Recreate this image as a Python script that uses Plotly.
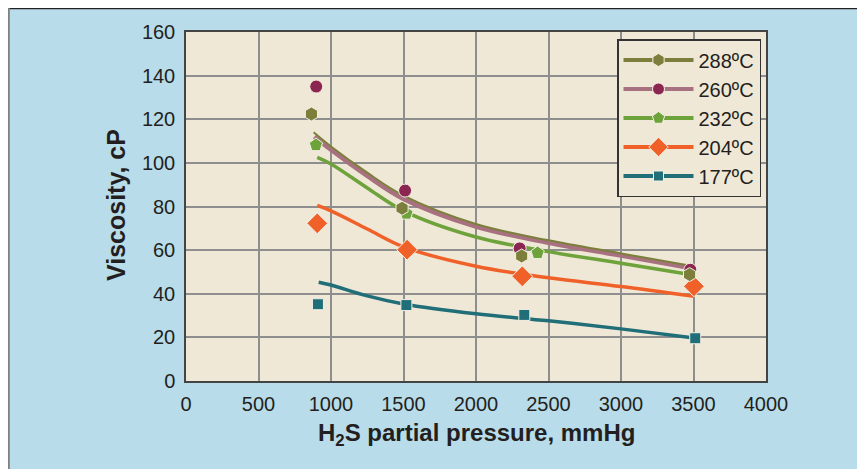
import plotly.graph_objects as go

# ---- data ----
series_names = ["288ºC", "260ºC", "232ºC", "204ºC", "177ºC"]

# measured points
pts_288_x = [865, 1490, 2315, 3473]
pts_288_y = [122.4, 79.2, 57.3, 48.8]
pts_260_x = [898, 1511, 2301, 3478]
pts_260_y = [135.0, 87.3, 60.8, 51.0]
pts_232_x = [896, 1520, 2425]
pts_232_y = [108.2, 76.8, 58.7]
pts_204_x = [905, 1525, 2319, 3503]
pts_204_y = [72.3, 60.2, 48.0, 43.4]
pts_177_x = [910, 1520, 2333, 3512]
pts_177_y = [35.2, 34.8, 30.3, 19.6]

# fitted curves
fit_288_x = [880, 1000, 1250, 1500, 2000, 2500, 3000, 3480]
fit_288_y = [114.0, 107.5, 95.5, 85.0, 72.0, 64.5, 58.5, 52.8]
fit_260_x = [885, 1000, 1250, 1500, 2000, 2500, 3000, 3480]
fit_260_y = [112.0, 106.0, 94.0, 83.5, 70.8, 63.4, 57.5, 51.8]
fit_232_x = [905, 1000, 1250, 1500, 2000, 2500, 3000, 3445]
fit_232_y = [102.5, 99.5, 88.5, 78.0, 66.0, 59.3, 54.0, 49.2]
fit_204_x = [905, 1000, 1250, 1500, 2000, 2500, 3000, 3505]
fit_204_y = [80.5, 78.0, 69.7, 61.5, 52.6, 47.3, 43.3, 38.8]
fit_177_x = [915, 1000, 1250, 1500, 2000, 2500, 3000, 3520]
fit_177_y = [45.3, 44.0, 39.0, 35.3, 30.8, 27.6, 23.9, 19.6]

x_ticks = [0, 500, 1000, 1500, 2000, 2500, 3000, 3500, 4000]
y_ticks = [0, 20, 40, 60, 80, 100, 120, 140, 160]

# ---- styles ----
OLIVE = "#7b7f3b"
MAUVE_LINE = "#a8717f"
MAUVE_MK = "#8b2651"
GREEN = "#6ea23b"
ORANGE = "#f0612a"
TEAL = "#1f6e78"
PLOT_BG = "#f0e8d6"
PAPER_BG = "#b8dcea"
FONT = "Liberation Sans, Arial, sans-serif"
TXT = "#231f20"

# figure is offset by the page's 8px body margin, so it is sized to fill the rest of the window
W, H = 857, 461
ML, MR, MT, MB = 178, 99, 24, 88
PW, PH = W - ML - MR, H - MT - MB

def px_x(p):  # figure pixel -> paper x
    return (p - ML) / PW

def px_y(p):  # figure pixel -> paper y
    return (H - MB - p) / PH

fig = go.Figure()

def line(x, y, color, width):
    fig.add_trace(go.Scatter(x=x, y=y, mode="lines", line=dict(color=color, width=width, shape="spline"),
                             showlegend=False, hoverinfo="skip"))

def marks(x, y, color, symbol, size):
    fig.add_trace(go.Scatter(x=x, y=y, mode="markers",
                             marker=dict(color=color, symbol=symbol, size=size,
                                         line=dict(color="#f4efe4", width=1)),
                             showlegend=False))

# curves
line(fit_177_x, fit_177_y, TEAL, 3.5)
line(fit_204_x, fit_204_y, ORANGE, 3.5)
line(fit_232_x, fit_232_y, GREEN, 3.5)
line(fit_260_x, fit_260_y, MAUVE_LINE, 4.5)
line(fit_288_x, fit_288_y, OLIVE, 2)

# markers
marks(pts_177_x, pts_177_y, TEAL, "square", 11)
marks(pts_204_x, pts_204_y, ORANGE, "diamond", 16)
marks(pts_232_x, pts_232_y, GREEN, "pentagon", 14)
marks(pts_260_x, pts_260_y, MAUVE_MK, "circle", 13)
marks(pts_288_x, pts_288_y, OLIVE, "hexagon", 14)

# legend entries
legend_styles = [
    (OLIVE, OLIVE, "hexagon", 13),
    (MAUVE_LINE, MAUVE_MK, "circle", 12),
    (GREEN, GREEN, "pentagon", 13),
    (ORANGE, ORANGE, "diamond", 15),
    (TEAL, TEAL, "square", 10),
]
for i, (name, (lc, mc, sym, sz)) in enumerate(zip(series_names, legend_styles)):
    fig.add_trace(go.Scatter(x=[None], y=[None], mode="lines+markers", name=name,
                             line=dict(color=lc, width=4),
                             marker=dict(color=mc, symbol=sym, size=sz, line=dict(color="#f4efe4", width=1)),
                             legendgroup=f"g{i}", showlegend=True))

fig.update_layout(
    width=W, height=H,
    margin=dict(l=ML, r=MR, t=MT, b=MB),
    paper_bgcolor=PAPER_BG,
    plot_bgcolor=PLOT_BG,
    font=dict(family=FONT, color=TXT),
    showlegend=True,
    legend=dict(x=px_x(753), y=px_y(31), xanchor="right", yanchor="top",
                bgcolor=PLOT_BG, bordercolor="#333333", borderwidth=1.5,
                font=dict(size=20, family=FONT, color=TXT),
                tracegroupgap=0, traceorder="grouped", itemwidth=70),
    xaxis=dict(range=[0, 4000], tickvals=x_ticks, ticktext=[str(v) for v in x_ticks],
               showgrid=True, gridcolor="#8e8e8e", gridwidth=1.5,
               showline=True, linecolor="#444444", linewidth=1.5, mirror=True,
               ticks="", ticklabelstandoff=4, zeroline=False,
               tickfont=dict(size=20, family=FONT, color=TXT)),
    yaxis=dict(range=[0, 160], tickvals=y_ticks, ticktext=[str(v) for v in y_ticks],
               showgrid=True, gridcolor="#8e8e8e", gridwidth=1.5,
               showline=True, linecolor="#444444", linewidth=1.5, mirror=True,
               ticks="", ticklabelstandoff=5, zeroline=False,
               tickfont=dict(size=20, family=FONT, color=TXT)),
    annotations=[
        dict(text="H<sub>2</sub>S partial pressure, mmHg", xref="paper", yref="paper",
             x=0.5, y=px_y(426), xanchor="center", yanchor="middle", showarrow=False,
             font=dict(size=24, family=FONT, color=TXT, weight="bold")),
        dict(text="Viscosity, cP", xref="paper", yref="paper", textangle=-90,
             x=px_x(108), y=px_y(197), xanchor="center", yanchor="middle",
             showarrow=False, font=dict(size=25, family=FONT, color=TXT, weight="bold")),
    ],
    shapes=[
        dict(type="line", xref="paper", yref="paper", x0=px_x(0), x1=px_x(W),
             y0=px_y(0.6), y1=px_y(0.6), line=dict(color="#222222", width=1.5), layer="above"),
        dict(type="line", xref="paper", yref="paper", x0=px_x(0.8), x1=px_x(0.8),
             y0=px_y(0), y1=px_y(H), line=dict(color="#808080", width=2), layer="above"),
    ],
)

fig.write_html("out.html")
